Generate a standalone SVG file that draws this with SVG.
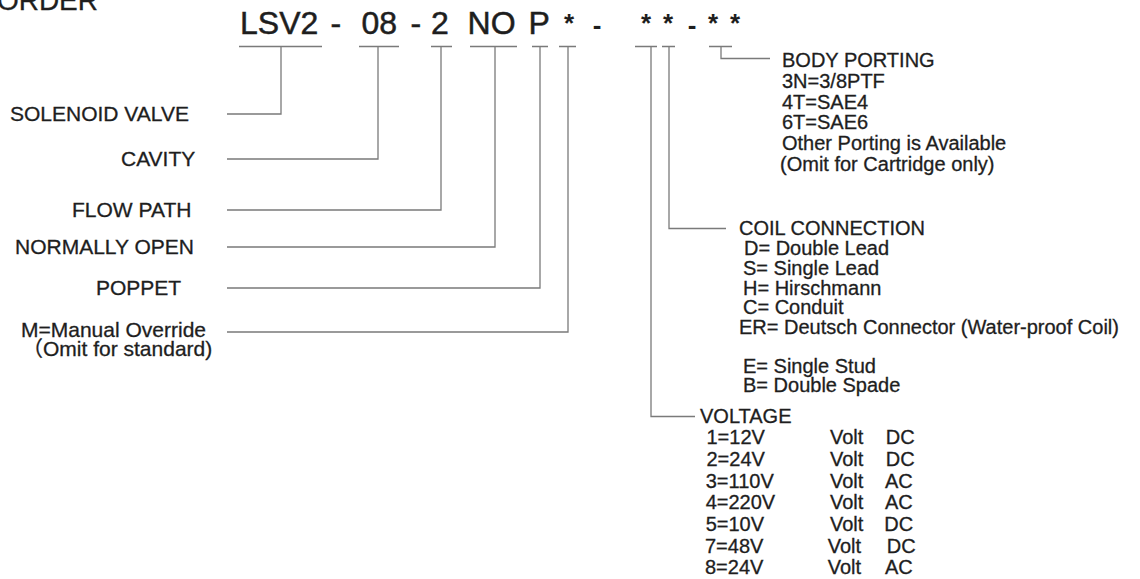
<svg xmlns="http://www.w3.org/2000/svg" width="1140" height="579" viewBox="0 0 1140 579">
<style>
text{font-family:"Liberation Sans",Arial,"Noto Sans CJK SC",sans-serif;fill:#1e1e1e;stroke:#1e1e1e;stroke-width:0.3}
.t{font-size:32px;stroke-width:0.5}
.s{font-size:26px;font-weight:bold;stroke-width:0}
.l{font-size:21px}
.r{font-size:20px}
.c path{fill:none;stroke:#7a7a7a;stroke-width:1.3}
</style>
<rect width="1140" height="579" fill="#fff"/>
<text x="98" y="10" font-size="28" text-anchor="end">ORDER</text>
<g id="code">
<text class="t" x="240" y="34">LSV2</text>
<text class="t" x="330.6" y="34">-</text>
<text class="t" x="361.5" y="34">08</text>
<text class="t" x="410.6" y="34">-</text>
<text class="t" x="431" y="34">2</text>
<text class="t" x="467.6" y="34">NO</text>
<text class="t" x="528.5" y="34">P</text>
<text class="s" x="569" y="32" text-anchor="middle">*</text>
<text class="s" x="597" y="34" text-anchor="middle">-</text>
<text class="s" x="646" y="32" text-anchor="middle">*</text>
<text class="s" x="668" y="32" text-anchor="middle">*</text>
<text class="s" x="692" y="34" text-anchor="middle">-</text>
<text class="s" x="713" y="32" text-anchor="middle">*</text>
<text class="s" x="735" y="32" text-anchor="middle">*</text>
</g>
<g class="c" id="connectors">
<path d="M239 46.5H322M281 46.5V114H227"/>
<path d="M359 46.5H399M378 46.5V159H227"/>
<path d="M431 46.5H452M441 46.5V210H227"/>
<path d="M470 46.5H517M495 46.5V247H227"/>
<path d="M532 46.5H548M540 46.5V288H227"/>
<path d="M559 46.5H576M568 46.5V332H227"/>
<path d="M635 46.5H657M651 46.5V416.5H695"/>
<path d="M662 46.5H675M669 46.5V228.5H726"/>
<path d="M709 46.5H732M721 46.5V58.5H770"/>
</g>
<g id="solenoid"><text class="l" x="10" y="121">SOLENOID VALVE</text></g>
<g id="cavity"><text class="l" x="121" y="166">CAVITY</text></g>
<g id="flowpath"><text class="l" x="72" y="217">FLOW PATH</text></g>
<g id="normallyopen"><text class="l" x="15" y="254">NORMALLY OPEN</text></g>
<g id="poppet"><text class="l" x="96" y="295">POPPET</text></g>
<g id="override">
<text class="l" x="21" y="336.5">M=Manual Override</text>
<text class="l" x="22" y="356">（Omit for standard)</text>
</g>
<g id="bodyporting">
<text class="r" x="782" y="67">BODY PORTING</text>
<text class="r" x="782" y="88">3N=3/8PTF</text>
<text class="r" x="782" y="108.5">4T=SAE4</text>
<text class="r" x="782" y="129">6T=SAE6</text>
<text class="r" x="782" y="150">Other Porting is Available</text>
<text class="r" x="780" y="171">(Omit for Cartridge only)</text>
</g>
<g id="coilconnection">
<text class="r" x="739" y="235">COIL CONNECTION</text>
<text class="r" x="744" y="255.3">D= Double Lead</text>
<text class="r" x="743" y="275">S= Single Lead</text>
<text class="r" x="743" y="294.7">H= Hirschmann</text>
<text class="r" x="743" y="313.7">C= Conduit</text>
<text class="r" x="739" y="333.7">ER= Deutsch Connector (Water-proof Coil)</text>
<text class="r" x="743" y="372.7">E= Single Stud</text>
<text class="r" x="743" y="392">B= Double Spade</text>
</g>
<g id="voltage">
<text class="r" x="700" y="423">VOLTAGE</text>
<text class="r" x="706.5" y="444.3">1=12V</text><text class="r" x="830" y="444.3">Volt</text><text class="r" x="885.7" y="444.3">DC</text>
<text class="r" x="706.5" y="466">2=24V</text><text class="r" x="830" y="466">Volt</text><text class="r" x="885.7" y="466">DC</text>
<text class="r" x="705.7" y="487.7">3=110V</text><text class="r" x="830" y="487.7">Volt</text><text class="r" x="885" y="487.7">AC</text>
<text class="r" x="705.7" y="509.3">4=220V</text><text class="r" x="830" y="509.3">Volt</text><text class="r" x="885" y="509.3">AC</text>
<text class="r" x="705.7" y="531">5=10V</text><text class="r" x="830" y="531">Volt</text><text class="r" x="884.3" y="531">DC</text>
<text class="r" x="705" y="552.7">7=48V</text><text class="r" x="827.7" y="552.7">Volt</text><text class="r" x="886.7" y="552.7">DC</text>
<text class="r" x="705" y="574.3">8=24V</text><text class="r" x="827.7" y="574.3">Volt</text><text class="r" x="885" y="574.3">AC</text>
</g>
</svg>
